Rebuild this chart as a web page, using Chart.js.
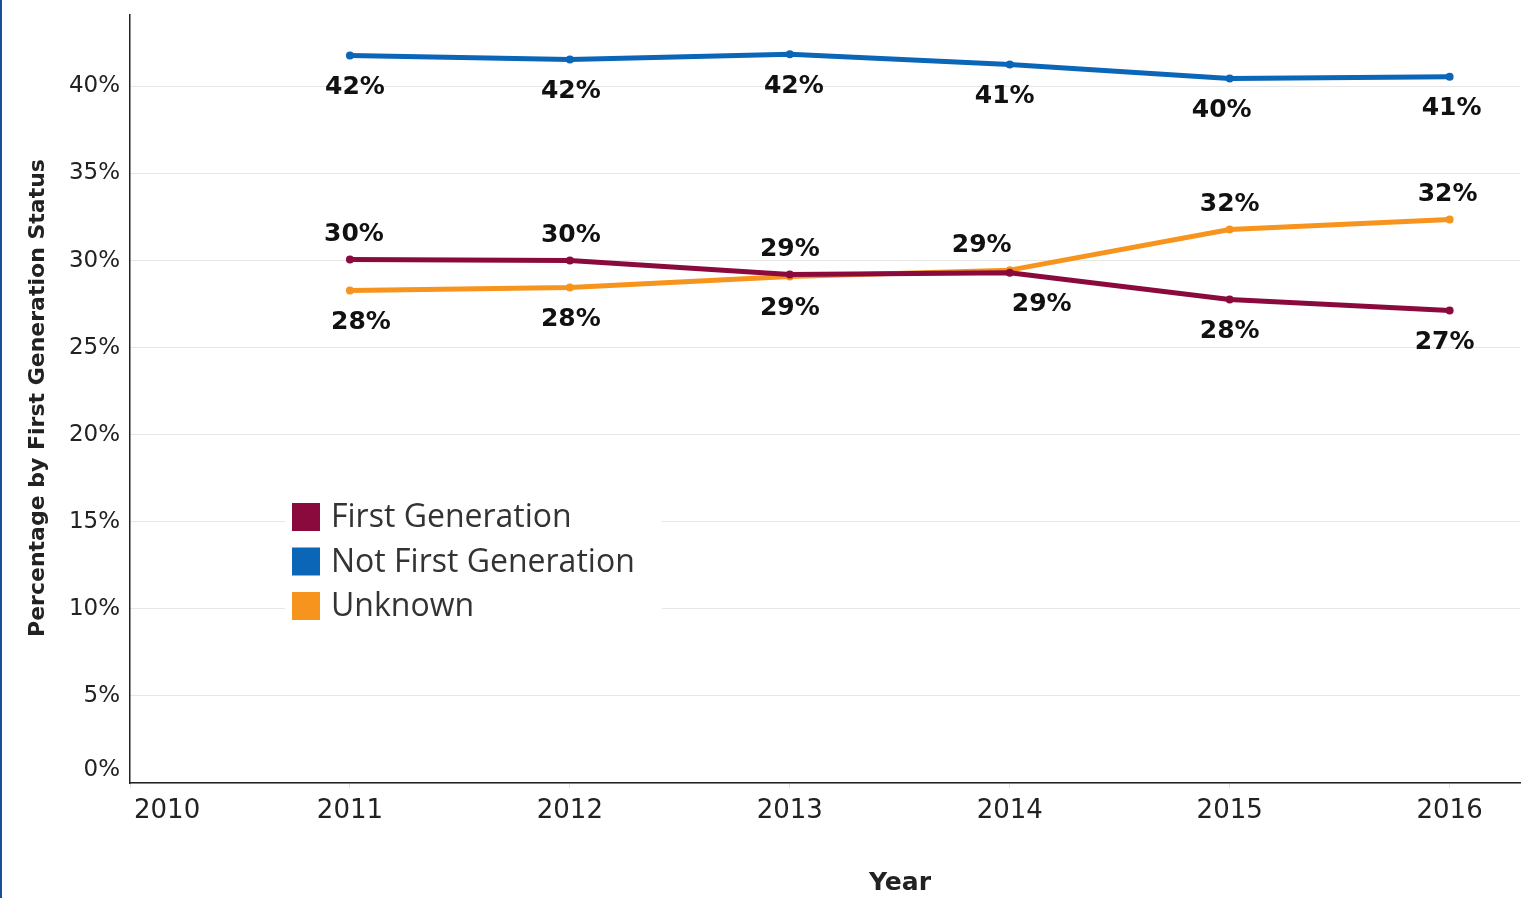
<!DOCTYPE html>
<html>
<head>
<meta charset="utf-8">
<script src="https://cdn.jsdelivr.net/npm/chart.js@4.4.1/dist/chart.umd.min.js"></script>
<style>
  html, body { margin: 0; padding: 0; background: #fff; }
  #wrap { width: 1534px; height: 898px; position: relative; }
</style>
</head>
<body>
<div id="wrap"><canvas id="mycanvas" width="1534" height="898"></canvas></div>
<script>
var years = [2011, 2012, 2013, 2014, 2015, 2016];
var firstGen = [30.06, 30.0, 29.2, 29.3, 27.76, 27.13];
var notFirstGen = [41.78, 41.55, 41.84, 41.26, 40.45, 40.55];
var unknown = [28.28, 28.45, 29.08, 29.45, 31.78, 32.36];
var yTicks = [0, 5, 10, 15, 20, 25, 30, 35, 40];
var xTicks = [2010, 2011, 2012, 2013, 2014, 2015, 2016];

function pts(vals) {
  var out = [];
  for (var i in years) out.push({x: years[i], y: vals[i]});
  return out;
}

var tickFont = '"DejaVu Sans", Verdana, sans-serif';

// labels, tick texts, titles, legend box
var decor = {
  id: 'decor',
  beforeDatasetsDraw: function(chart) {
    var ctx = chart.ctx;
    // legend (white box hides grid lines)
    ctx.save();
    ctx.fillStyle = '#fff';
    ctx.fillRect(285, 494, 377, 136);
    var items = chart.data.datasets;
    ctx.font = '32px "Open Sans", "Noto Sans", sans-serif';
    ctx.textBaseline = 'middle';
    ctx.textAlign = 'left';
    for (var i = 0; i < items.length; i++) {
      var cy = 517 + i * 44.5;
      ctx.fillStyle = items[i].borderColor;
      ctx.fillRect(292, cy - 14, 28, 28);
      ctx.fillStyle = '#333';
      ctx.fillText(items[i].label, 331, cy + 1);
    }
    ctx.restore();
  },
  afterDraw: function(chart) {
    var ctx = chart.ctx;
    var xs = chart.scales.x, ys = chart.scales.y;
    ctx.save();
    // left page border
    ctx.fillStyle = '#1c4f96';
    ctx.fillRect(0, 0, 2, 898);

    // y tick labels
    ctx.fillStyle = '#222';
    ctx.font = '23px ' + tickFont;
    ctx.textAlign = 'right';
    ctx.textBaseline = 'middle';
    for (var i in yTicks) {
      var py = ys.getPixelForValue(yTicks[i]);
      if (yTicks[i] === 0) py -= 13;
      ctx.fillText(yTicks[i] + '%', 120, py);
    }
    // x tick labels
    ctx.font = '26px ' + tickFont;
    ctx.textBaseline = 'middle';
    for (var j in xTicks) {
      var px = xs.getPixelForValue(xTicks[j]);
      ctx.textAlign = 'center';
      if (j == 0) { ctx.textAlign = 'left'; px += 4; }
      ctx.fillText(String(xTicks[j]), px, 811);
    }
    // axis titles
    ctx.font = 'bold 25px ' + tickFont;
    ctx.textAlign = 'center';
    ctx.fillText('Year', 900, 883);
    ctx.font = 'bold 22px ' + tickFont;
    ctx.translate(38, 398);
    ctx.rotate(-Math.PI / 2);
    ctx.fillText('Percentage by First Generation Status', 0, 0);
    ctx.restore();

    // data labels
    ctx.save();
    ctx.font = 'bold 25px ' + tickFont;
    ctx.fillStyle = '#111';
    ctx.textAlign = 'center';
    ctx.textBaseline = 'middle';
    chart.data.datasets.forEach(function(ds, di) {
      var meta = chart.getDatasetMeta(di);
      meta.data.forEach(function(pt, k) {
        var v = ds.data[k].y;
        var pos = ds.labelPos[k];
        var dy = pos === 'above' ? -25 : 32;
        ctx.fillText(Math.round(v) + '%', pt.x + ds.labelDx[k], pt.y + dy);
      });
    });
    ctx.restore();
  }
};

var chartdata = {
  datasets: [
    {
      label: 'First Generation',
      data: pts(firstGen),
      borderColor: '#8b0a3e',
      backgroundColor: '#8b0a3e',
      labelPos: ['above', 'above', 'above', 'below', 'below', 'below'],
      labelDx: [4, 1, 0, 32, 0, -5]
    },
    {
      label: 'Not First Generation',
      data: pts(notFirstGen),
      borderColor: '#0b66b7',
      backgroundColor: '#0b66b7',
      labelPos: ['below', 'below', 'below', 'below', 'below', 'below'],
      labelDx: [5, 1, 4, -5, -8, 2]
    },
    {
      label: 'Unknown',
      data: pts(unknown),
      borderColor: '#f7941d',
      backgroundColor: '#f7941d',
      labelPos: ['below', 'below', 'below', 'above', 'above', 'above'],
      labelDx: [11, 1, 0, -28, 0, -2]
    }
  ]
};

var LineGraph = new Chart(document.getElementById('mycanvas'), {
  type: 'line',
  data: chartdata,
  options: {
    responsive: false,
    animation: false,
    layout: { padding: { top: 15, right: 14, left: 0, bottom: 0 } },
    elements: {
      line: { borderWidth: 5, tension: 0 },
      point: { radius: 4, borderWidth: 0, hoverRadius: 4 }
    },
    plugins: { legend: { display: false }, tooltip: { enabled: false } },
    scales: {
      x: {
        type: 'linear',
        min: 2010,
        max: 2016.32,
        afterFit: function(s) { s.height = 115; },
        afterBuildTicks: function(s) {
          s.ticks = xTicks.map(function(v) { return {value: v}; });
        },
        ticks: { display: false },
        grid: { drawOnChartArea: false, drawTicks: true, tickLength: 5, color: '#e2e2e2' },
        border: { display: true, color: '#222', width: 1.5 }
      },
      y: {
        min: 0,
        max: 44.1,
        afterFit: function(s) { s.width = 130; },
        afterBuildTicks: function(s) {
          s.ticks = yTicks.map(function(v) { return {value: v}; });
        },
        ticks: { display: false },
        grid: { drawTicks: false, color: '#e6e6e6', lineWidth: 1 },
        border: { display: true, color: '#222', width: 1.5 }
      }
    }
  },
  plugins: [decor]
});
</script>
</body>
</html>
